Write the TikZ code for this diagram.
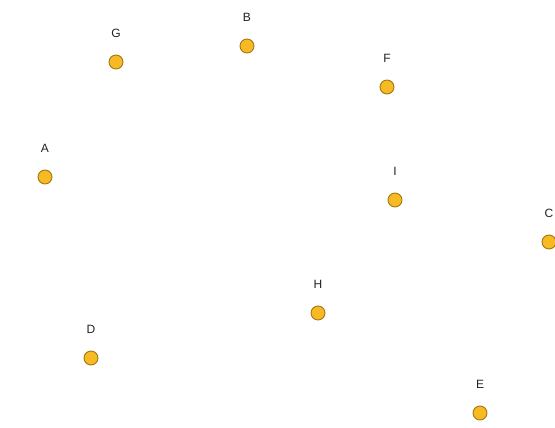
\documentclass[tikz,border=0pt]{standalone}
\usepackage{fontspec}
\setmainfont{Liberation Sans}
\definecolor{dotfill}{HTML}{F7B924}
\definecolor{dotdraw}{HTML}{A07A10}
\definecolor{labtext}{HTML}{222222}
\begin{document}
\begin{tikzpicture}[x=1pt,y=-1pt,
  dot/.style={circle,fill=dotfill,draw=dotdraw,line width=0.9pt,minimum size=14pt,inner sep=0pt},
  lab/.style={text=labtext,font=\fontsize{12}{14}\selectfont,inner sep=0pt}]
\useasboundingbox (0,0) rectangle (555,428);
\clip (0,0) rectangle (555,428);
\foreach \n/\x/\y in {G/116/62, B/247/46, F/387/87, A/45/177, I/395/200, C/549/242, H/318/313, D/91/358, E/480/413}{
  \node[dot] (\n) at (\x,\y) {};
  \node[lab] (l\n) at (\x,\y-29) {\n};
}
\end{tikzpicture}
\end{document}
